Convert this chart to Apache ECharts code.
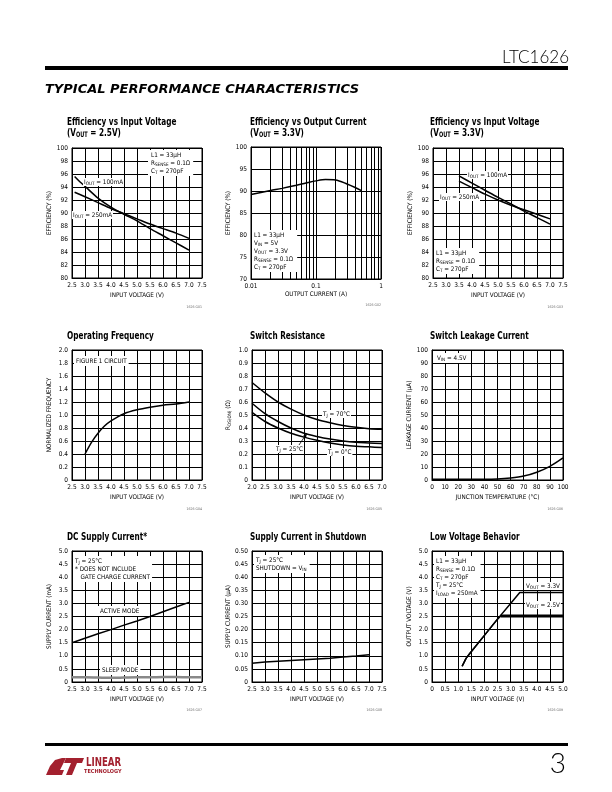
<!DOCTYPE html>
<html><head><meta charset="utf-8">
<script src="https://cdn.jsdelivr.net/npm/echarts@6/dist/echarts.min.js"></script>
<style>html,body{margin:0;padding:0;background:#fff}#c{width:612px;height:792px}</style>
</head><body><div id="c"></div>
<script>
// ---------------- DATA ----------------
// Chart 1: Efficiency vs Input Voltage (VOUT = 2.5V)
const c1_vin100 = [2.6, 2.8, 3.0, 3.5, 4.0, 4.5, 5.0, 5.5, 6.0, 6.5, 7.0];
const c1_eff100 = [95.6, 94.8, 94.1, 92.3, 90.9, 89.8, 88.8, 87.6, 86.5, 85.4, 84.3];
const c1_vin250 = [2.6, 3.0, 3.5, 4.0, 4.5, 5.0, 5.5, 6.0, 6.5, 7.0];
const c1_eff250 = [93.2, 92.5, 91.6, 90.7, 89.9, 89.1, 88.3, 87.6, 86.9, 86.1];
// Chart 2: Efficiency vs Output Current
const c2_iout = [0.01, 0.02, 0.03, 0.05, 0.07, 0.1, 0.14, 0.2, 0.3, 0.4, 0.5];
const c2_eff = [89.2, 90.1, 90.6, 91.3, 91.8, 92.3, 92.6, 92.5, 91.6, 90.8, 90.1];
const c2_minorGrid = [0.02, 0.03, 0.04, 0.05, 0.06, 0.07, 0.08, 0.09, 0.2, 0.3, 0.4, 0.5, 0.6, 0.7, 0.8, 0.9];
// Chart 3: Efficiency vs Input Voltage (VOUT = 3.3V)
const c3_vin = [3.5, 4.0, 4.5, 5.0, 5.5, 6.0, 6.5, 7.0];
const c3_eff100 = [95.7, 94.6, 93.5, 92.4, 91.4, 90.3, 89.3, 88.3];
const c3_eff250 = [94.9, 93.9, 92.9, 92.0, 91.2, 90.5, 89.8, 89.1];
// Chart 4: Operating Frequency
const c4_vin = [3.0, 3.25, 3.5, 3.75, 4.0, 4.5, 5.0, 5.5, 6.0, 6.5, 7.0];
const c4_freq = [0.40, 0.58, 0.72, 0.83, 0.91, 1.02, 1.08, 1.12, 1.15, 1.17, 1.20];
// Chart 5: Switch Resistance
const c5_vin = [2.0, 2.5, 3.0, 3.5, 4.0, 4.5, 5.0, 5.5, 6.0, 6.5, 7.0];
const c5_r70 = [0.75, 0.67, 0.60, 0.545, 0.50, 0.465, 0.44, 0.42, 0.405, 0.395, 0.39];
const c5_r25 = [0.59, 0.51, 0.45, 0.40, 0.36, 0.335, 0.315, 0.30, 0.29, 0.285, 0.28];
const c5_r0 = [0.52, 0.45, 0.40, 0.36, 0.33, 0.305, 0.285, 0.27, 0.26, 0.255, 0.25];
// Chart 6: Switch Leakage Current
const c6_temp = [0, 10, 20, 30, 40, 50, 60, 70, 80, 90, 100];
const c6_leak = [0.5, 0.5, 0.5, 0.5, 0.5, 0.7, 1.5, 3.0, 6.0, 10.5, 17.0];
// Chart 7: DC Supply Current
const c7_vin = [2.5, 3.0, 3.5, 4.0, 4.5, 5.0, 5.5, 6.0, 6.5, 7.0];
const c7_active = [1.50, 1.67, 1.84, 2.00, 2.17, 2.33, 2.50, 2.68, 2.86, 3.04];
const c7_vinSleep = [2.5, 3.0, 3.5, 4.0, 4.5, 5.0, 5.5, 6.0, 6.5, 7.0, 7.5];
const c7_sleep = [0.18, 0.18, 0.17, 0.16, 0.17, 0.18, 0.18, 0.19, 0.19, 0.18, 0.18];
// Chart 8: Supply Current in Shutdown
const c8_vin = [2.5, 3.0, 3.5, 4.0, 4.5, 5.0, 5.5, 6.0, 6.5, 7.0];
const c8_iq = [0.072, 0.076, 0.079, 0.082, 0.085, 0.088, 0.091, 0.095, 0.099, 0.104];
// Chart 9: Low Voltage Behavior
const c9_vin33 = [1.15, 1.3, 1.45, 2.0, 2.5, 3.0, 3.35, 5.0];
const c9_out33 = [0.6, 0.9, 1.1, 1.78, 2.4, 3.0, 3.42, 3.42];
const c9_vin25 = [1.15, 1.3, 1.45, 2.0, 2.5, 2.62, 5.0];
const c9_out25 = [0.6, 0.9, 1.1, 1.78, 2.4, 2.52, 2.52];

// ---------------- HELPERS ----------------
const FONT = '"Liberation Sans Narrow","Arial Narrow","DejaVu Sans Condensed","Liberation Sans",sans-serif';
const RICH = {
  s: {fontSize: 4.6, fontFamily: FONT, fill: '#000', color: '#000', verticalAlign: 'bottom', padding: [3, 0, 0, 0]}
};
const RICHB = {
  s: {fontSize: 7.5, fontFamily: FONT, fontWeight: 'bold', fill: '#000', color: '#000', verticalAlign: 'bottom', padding: [4, 0, 0, 0]}
};
function sub(t) { return t.replace(/_\{([^}]*)\}/g, '{s|$1}'); }
function zip(xs, ys) { return xs.map((x, i) => [x, ys[i]]); }
function fmt(d) { return v => (Math.abs(v) < 1e-9 ? '0' : Number(v).toFixed(d)); }

const grids = [
  {left: 72, top: 148, width: 130, height: 130},
  {left: 251, top: 147, width: 130, height: 132},
  {left: 433, top: 148, width: 130, height: 130},
  {left: 72, top: 350, width: 130, height: 130},
  {left: 252, top: 350, width: 130, height: 130},
  {left: 432, top: 350, width: 131, height: 130},
  {left: 72, top: 551, width: 130, height: 131},
  {left: 252, top: 551, width: 130, height: 131},
  {left: 432, top: 551, width: 131, height: 131}
].map(g => Object.assign({show: true, borderColor: '#000', borderWidth: 1, backgroundColor: 'transparent', containLabel: false, outerBoundsMode: 'none'}, g));

function axis(gi, type, min, max, interval, dec, name, nameGap) {
  const a = {
    gridIndex: gi, type: type, min: min, max: max,
    axisLine: {show: true, onZero: false, lineStyle: {color: '#000', width: 1}},
    axisTick: {show: false},
    splitLine: {show: true, lineStyle: {color: '#000', width: 1}},
    axisLabel: {fontSize: 6.5, fontFamily: FONT, color: '#000', margin: 4, hideOverlap: false, showMinLabel: true, showMaxLabel: true,
      formatter: dec === 'log' ? (v => String(+Number(v).toPrecision(3))) : fmt(dec)},
    name: sub(name), nameLocation: 'middle', nameGap: nameGap,
    nameTextStyle: {fontSize: 6.3, fontFamily: FONT, color: '#000', rich: RICH}
  };
  if (interval != null) a.interval = interval;
  if (type === 'log') a.logBase = 10;
  return a;
}
const XG = 14.5, YG = 20;
const xAxes = [
  axis(0, 'value', 2.5, 7.5, 0.5, 1, 'INPUT VOLTAGE (V)', XG),
  axis(1, 'log', 0.01, 1, null, 'log', 'OUTPUT CURRENT (A)', 12.5),
  axis(2, 'value', 2.5, 7.5, 0.5, 1, 'INPUT VOLTAGE (V)', XG),
  axis(3, 'value', 2.5, 7.5, 0.5, 1, 'INPUT VOLTAGE (V)', XG),
  axis(4, 'value', 2.0, 7.0, 0.5, 1, 'INPUT VOLTAGE (V)', XG),
  axis(5, 'value', 0, 100, 10, 0, 'JUNCTION TEMPERATURE (°C)', XG),
  axis(6, 'value', 2.5, 7.5, 0.5, 1, 'INPUT VOLTAGE (V)', XG),
  axis(7, 'value', 2.5, 7.5, 0.5, 1, 'INPUT VOLTAGE (V)', XG),
  axis(8, 'value', 0, 5, 0.5, 1, 'INPUT VOLTAGE (V)', XG)
];
const yAxes = [
  axis(0, 'value', 80, 100, 2, 0, 'EFFICIENCY (%)', YG),
  axis(1, 'value', 70, 100, 5, 0, 'EFFICIENCY (%)', YG),
  axis(2, 'value', 80, 100, 2, 0, 'EFFICIENCY (%)', YG),
  axis(3, 'value', 0, 2, 0.2, 1, 'NORMALIZED FREQUENCY', YG),
  axis(4, 'value', 0, 1, 0.1, 1, 'R_{DS(ON)} (Ω)', YG),
  axis(5, 'value', 0, 100, 10, 0, 'LEAKAGE CURRENT (μA)', YG),
  axis(6, 'value', 0, 5, 0.5, 1, 'SUPPLY CURRENT (mA)', YG),
  axis(7, 'value', 0, 0.5, 0.05, 2, 'SUPPLY CURRENT (μA)', YG),
  axis(8, 'value', 0, 5, 0.5, 1, 'OUTPUT VOLTAGE (V)', YG)
];

function line(gi, xs, ys, o) {
  return Object.assign({
    type: 'line', xAxisIndex: gi, yAxisIndex: gi, data: zip(xs, ys),
    showSymbol: false, symbol: 'none', smooth: 0.3, silent: true, z: 3,
    lineStyle: {color: '#000', width: 1.5}
  }, o || {});
}
const series = [
  line(0, c1_vin100, c1_eff100, {name: 'IOUT = 100mA'}),
  line(0, c1_vin250, c1_eff250, {name: 'IOUT = 250mA'}),
  line(1, c2_iout, c2_eff, {name: 'Efficiency', markLine: {
    silent: true, symbol: ['none', 'none'], label: {show: false}, animation: false,
    lineStyle: {color: '#000', type: 'solid', width: 1},
    data: c2_minorGrid.map(v => ({xAxis: v}))
  }}),
  line(2, c3_vin, c3_eff100, {name: 'IOUT = 100mA'}),
  line(2, c3_vin, c3_eff250, {name: 'IOUT = 250mA'}),
  line(3, c4_vin, c4_freq, {name: 'Frequency'}),
  line(4, c5_vin, c5_r70, {name: 'TJ = 70°C'}),
  line(4, c5_vin, c5_r25, {name: 'TJ = 25°C'}),
  line(4, c5_vin, c5_r0, {name: 'TJ = 0°C'}),
  line(5, c6_temp, c6_leak, {name: 'Leakage'}),
  line(6, c7_vin, c7_active, {name: 'ACTIVE MODE', smooth: false}),
  line(6, c7_vinSleep, c7_sleep, {name: 'SLEEP MODE', lineStyle: {color: '#888', width: 2.5}}),
  line(7, c8_vin, c8_iq, {name: 'Shutdown', smooth: false}),
  line(8, c9_vin33, c9_out33, {name: 'VOUT = 3.3V', smooth: false}),
  line(8, c9_vin25, c9_out25, {name: 'VOUT = 2.5V', smooth: false}),
  line(8, [2.62, 5.0], [2.52, 2.52], {name: 'VOUT = 2.5V bold', smooth: false, lineStyle: {color: '#000', width: 3}})
];

// ---------------- TEXT / DECORATION ----------------
function txt(x, y, text, o, extra) {
  return Object.assign({type: 'text', x: x, y: y, z: 100, silent: true, style: Object.assign({
    text: sub(text), fontSize: 6.3, fontFamily: FONT, fill: '#000', lineHeight: 8,
    align: 'left', verticalAlign: 'middle', rich: RICH
  }, o || {})}, extra || {});
}
function box(x, y, lines, o) {
  return txt(x, y, lines.join('\n'), Object.assign({verticalAlign: 'top', backgroundColor: '#fff', padding: [1, 2, 1, 2]}, o || {}));
}
function title(x, y, text) {
  return txt(x, y, text, {fontSize: 11, fontWeight: 'bold', lineHeight: 11, verticalAlign: 'top', rich: RICHB}, {scaleX: 0.74});
}
function code(x, y, text) {
  return txt(x, y, text, {fontSize: 3.5, fill: '#666', align: 'right'});
}
const RED = '#a3202e';
const graphics = [
  // header
  txt(569, 58, 'LTC1626', {fontSize: 17, fontFamily: 'Lato, Roboto, sans-serif', fontWeight: 300, align: 'right'}),
  {type: 'rect', z: 100, silent: true, shape: {x: 45, y: 66, width: 523, height: 4}, style: {fill: '#000'}},
  txt(45, 90, 'TYPICAL PERFORMANCE CHARACTERISTICS', {fontSize: 13, fontFamily: '"DejaVu Sans", sans-serif', fontWeight: 'bold', fontStyle: 'italic'}),
  // footer
  {type: 'rect', z: 100, silent: true, shape: {x: 45, y: 743, width: 523, height: 3}, style: {fill: '#000'}},
  txt(566, 764, '3', {fontSize: 28, fontFamily: 'Lato, Roboto, sans-serif', fontWeight: 300, align: 'right'}),
  {type: 'polygon', z: 100, silent: true, shape: {points: [[46, 775], [50, 766], [55, 760], [62, 758], [66, 758], [60, 770], [64, 770], [62, 775]]}, style: {fill: RED}},
  {type: 'polygon', z: 100, silent: true, shape: {points: [[66, 758], [84, 758], [82, 763], [77, 763], [72, 775], [66, 775], [71, 763], [64, 763]]}, style: {fill: RED}},
  txt(86, 763, 'LINEAR', {fontSize: 12, fontWeight: 'bold', fill: RED, fontFamily: FONT}, {scaleX: 0.8}),
  txt(84, 771.5, 'TECHNOLOGY', {fontSize: 5.5, fontWeight: 'bold', fill: RED, fontFamily: FONT}),

  // titles
  title(67, 117, 'Efficiency vs Input Voltage\n(V_{OUT} = 2.5V)'),
  title(250, 117, 'Efficiency vs Output Current\n(V_{OUT} = 3.3V)'),
  title(430, 117, 'Efficiency vs Input Voltage\n(V_{OUT} = 3.3V)'),
  title(67, 331, 'Operating Frequency'),
  title(250, 331, 'Switch Resistance'),
  title(430, 331, 'Switch Leakage Current'),
  title(67, 532, 'DC Supply Current*'),
  title(250, 532, 'Supply Current in Shutdown'),
  title(430, 532, 'Low Voltage Behavior'),

  // codes
  code(202, 307, '1626 G01'), code(381, 305, '1626 G02'), code(563, 307, '1626 G03'),
  code(202, 509, '1626 G04'), code(382, 509, '1626 G05'), code(563, 509, '1626 G06'),
  code(202, 710, '1626 G07'), code(382, 710, '1626 G08'), code(563, 710, '1626 G09'),

  // chart 1 annotations
  box(148, 150, ['L1 = 33μH', 'R_{SENSE} = 0.1Ω', 'C_{T} = 270pF'], {padding: [1, 3, 1, 3]}),
  txt(83, 182, 'I_{OUT} = 100mA', {backgroundColor: '#fff', padding: [0, 1, 0, 1]}),
  txt(72, 215, 'I_{OUT} = 250mA', {backgroundColor: '#fff', padding: [0, 1, 0, 1]}),
  // chart 2
  box(252, 230, ['L1 = 33μH', 'V_{IN} = 5V', 'V_{OUT} = 3.3V', 'R_{SENSE} = 0.1Ω', 'C_{T} = 270pF'], {padding: [1, 4, 1, 2]}),
  // chart 3
  txt(467, 175, 'I_{OUT} = 100mA', {backgroundColor: '#fff', padding: [0, 1, 0, 1]}),
  txt(439, 197, 'I_{OUT} = 250mA', {backgroundColor: '#fff', padding: [0, 1, 0, 1]}),
  box(434, 248, ['L1 = 33μH', 'R_{SENSE} = 0.1Ω', 'C_{T} = 270pF'], {padding: [1, 4, 1, 2]}),
  // chart 4
  txt(74, 361, 'FIGURE 1 CIRCUIT', {backgroundColor: '#fff', padding: [1, 2, 1, 2]}),
  // chart 5
  txt(322, 414, 'T_{J} = 70°C', {backgroundColor: '#fff', padding: [0, 1, 0, 1]}),
  txt(275, 449, 'T_{J} = 25°C', {backgroundColor: '#fff', padding: [0, 1, 0, 1]}),
  txt(327, 452, 'T_{J} = 0°C', {backgroundColor: '#fff', padding: [0, 1, 0, 1]}),
  {type: 'line', z: 100, silent: true, shape: {x1: 299, y1: 445, x2: 305, y2: 436}, style: {stroke: '#000', lineWidth: 0.8}},
  {type: 'polygon', z: 100, silent: true, shape: {points: [[307, 433], [303, 436], [306, 438]]}, style: {fill: '#000'}},
  // chart 6
  txt(435, 358, 'V_{IN} = 4.5V', {backgroundColor: '#fff', padding: [1, 2, 1, 2]}),
  // chart 7
  box(73, 556, ['T_{J} = 25°C', '* DOES NOT INCLUDE', '   GATE CHARGE CURRENT'], {padding: [1, 2, 1, 2]}),
  txt(98, 611, 'ACTIVE MODE', {backgroundColor: '#fff', padding: [1, 2, 1, 2]}),
  txt(100, 670, 'SLEEP MODE', {backgroundColor: '#fff', padding: [1, 2, 1, 2]}),
  // chart 8
  box(254, 555, ['T_{J} = 25°C', 'SHUTDOWN = V_{IN}'], {padding: [1, 3, 1, 2]}),
  // chart 9
  box(434, 556, ['L1 = 33μH', 'R_{SENSE} = 0.1Ω', 'C_{T} = 270pF', 'T_{J} = 25°C', 'I_{LOAD} = 250mA'], {padding: [1, 3, 1, 2]}),
  txt(525, 586, 'V_{OUT} = 3.3V', {backgroundColor: '#fff', padding: [0, 1, 0, 1]}),
  txt(525, 605, 'V_{OUT} = 2.5V', {backgroundColor: '#fff', padding: [0, 1, 0, 1]})
];

const chart = echarts.init(document.getElementById('c'), null, {renderer: 'canvas', width: 612, height: 792});
chart.setOption({
  animation: false,
  backgroundColor: '#fff',
  grid: grids,
  xAxis: xAxes,
  yAxis: yAxes,
  series: series,
  graphic: graphics
});
</script></body></html>
